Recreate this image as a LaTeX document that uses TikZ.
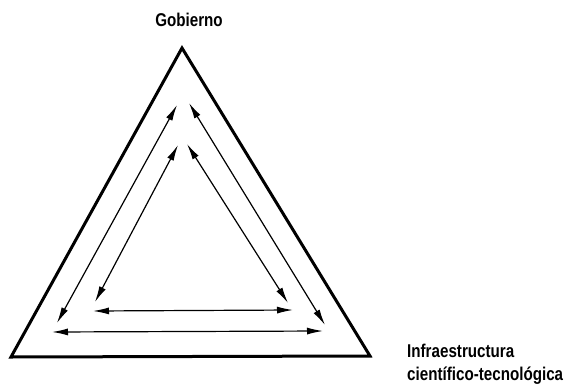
\documentclass[tikz,border=0pt]{standalone}
\usepackage{fontspec}
\setmainfont{Liberation Sans}[FakeStretch=0.82]
\usetikzlibrary{arrows.meta}
\tikzset{
  tri/.style={line width=3pt, line join=miter},
  dbl/.style={line width=1.2pt, {Latex[length=16pt,width=7pt]}-{Latex[length=16pt,width=7pt]}},
  lbl/.style={font=\fontsize{18.5}{22.5}\selectfont\bfseries, inner sep=0pt}
}
\begin{document}
\begin{tikzpicture}[x=1pt,y=-1pt]
\useasboundingbox (0,0) rectangle (570,388);
% triangle corners
\coordinate (A) at (182,48);
\coordinate (B) at (11,357);
\coordinate (C) at (370,356);
\draw[tri] (A) -- (B) -- (C) -- cycle;
% outer arrows
\coordinate (oL1) at (177,105); \coordinate (oL2) at (57,323);
\coordinate (oR1) at (189,103); \coordinate (oR2) at (325,325);
\coordinate (oB1) at (52,332);  \coordinate (oB2) at (323,331);
% inner arrows
\coordinate (iL1) at (178,145); \coordinate (iL2) at (95,302);
\coordinate (iR1) at (187,144); \coordinate (iR2) at (288,303);
\coordinate (iB1) at (93,311);  \coordinate (iB2) at (293,310);
\draw[dbl] (oL1) -- (oL2);
\draw[dbl] (oR1) -- (oR2);
\draw[dbl] (oB1) -- (oB2);
\draw[dbl] (iL1) -- (iL2);
\draw[dbl] (iR1) -- (iR2);
\draw[dbl] (iB1) -- (iB2);
% labels
\node[lbl, anchor=base] (gob) at (189,27) {Gobierno};
\node[lbl, anchor=north west, align=left] (inf) at (407,344) {Infraestructura\\científico-tecnológica};
\end{tikzpicture}
\end{document}
